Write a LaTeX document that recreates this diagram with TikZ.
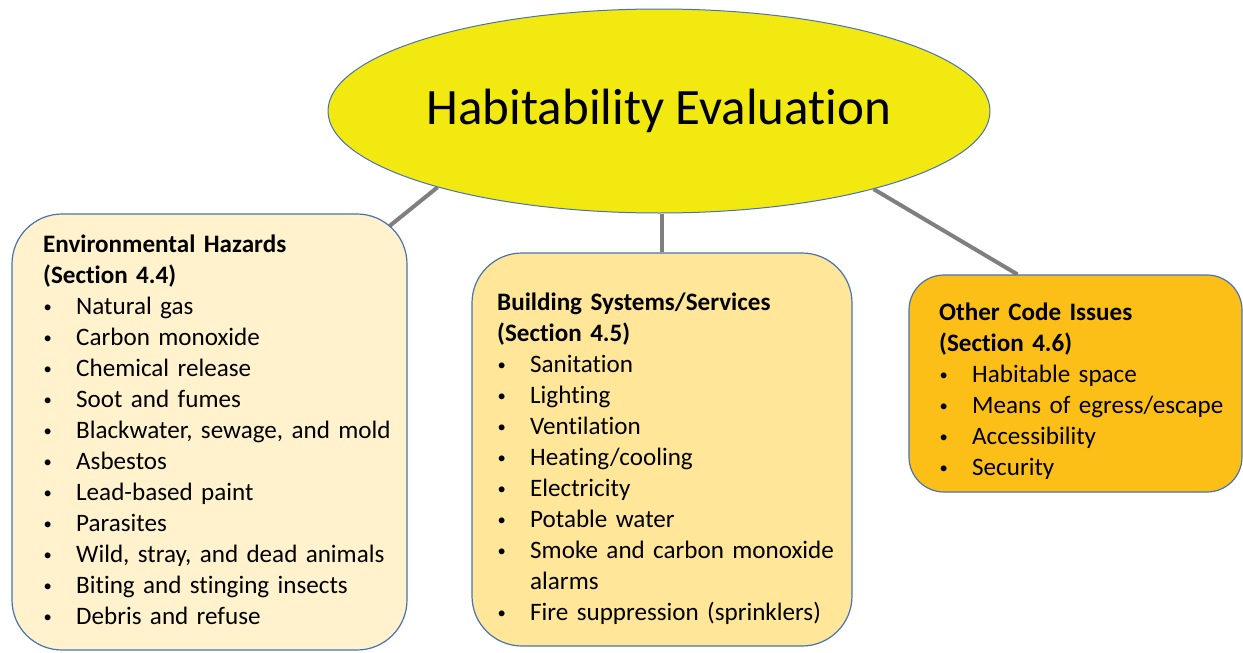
\documentclass[tikz,border=0pt]{standalone}
\usepackage{fontspec}
\setmainfont{Carlito}[Ligatures=NoCommon]
\usetikzlibrary{shapes.geometric,backgrounds,calc}
\definecolor{ellfill}{HTML}{F1E910}
\definecolor{boxA}{HTML}{FFF2CC}
\definecolor{boxB}{HTML}{FFE699}
\definecolor{boxC}{HTML}{FCBF17}
\definecolor{edge}{HTML}{4A72B0}
\definecolor{link}{HTML}{7F7F7F}
\newcommand{\itm}[1]{\makebox[33pt][l]{\hspace*{0.5pt}\raisebox{1.8pt}{\scalebox{0.66}{•}}}#1}
\tikzset{
  box/.style={draw=edge, line width=1.2pt, rounded corners=50pt, inner sep=0pt},
  txt/.style={align=left, inner sep=0pt, anchor=base west, text width=360pt,
    font=\fontsize{25.1}{31}\selectfont},
  link/.style={draw=link, line width=4pt}
}
\begin{document}
\begin{tikzpicture}[x=1pt, y=-1pt]
\useasboundingbox (0,0) rectangle (1243,653);
\node[ellipse, draw=edge, line width=1pt, fill=ellfill, minimum width=662pt,
  minimum height=204pt, inner sep=0pt, text height=26pt, text depth=0pt,
  font=\fontsize{51}{60}\selectfont]
  (top) at (659,111) {Habitability Evaluation};
\node[box, fill=boxA, minimum width=395pt, minimum height=436pt] (left) at (209.5,432) {};
\node[box, fill=boxB, minimum width=380pt, minimum height=393pt] (mid) at (662,449.5) {};
\node[box, fill=boxC, rounded corners=35pt, minimum width=333pt, minimum height=217pt] (right) at (1075.5,383.5) {};
\coordinate (lend) at ($(left.north east)+(-47,36)$);
\begin{scope}[on background layer]
\draw[link] (top.199) -- (lend);
\draw[link] (top.south -| mid.north) -- (mid.north);
\draw[link] (top.340.6) -- (right.118);
\end{scope}
\node[txt] (lt) at (43,252) {\textbf{Environmental Hazards}\\\textbf{(Section 4.4)}\\
\itm{Natural gas}\\\itm{Carbon monoxide}\\\itm{Chemical release}\\\itm{Soot and fumes}\\
\itm{Blackwater, sewage, and mold}\\\itm{Asbestos}\\\itm{Lead-based paint}\\\itm{Parasites}\\
\itm{Wild, stray, and dead animals}\\\itm{Biting and stinging insects}\\\itm{Debris and refuse}};
\node[txt] (mt) at (497,310) {\textbf{Building Systems/Services}\\\textbf{(Section 4.5)}\\
\itm{Sanitation}\\\itm{Lighting}\\\itm{Ventilation}\\\itm{Heating/cooling}\\\itm{Electricity}\\
\itm{Potable water}\\\itm{Smoke and carbon monoxide}\\\hspace*{33pt}alarms\\\itm{Fire suppression (sprinklers)}};
\node[txt, text width=300pt] (rt) at (939,320) {\textbf{Other Code Issues}\\\textbf{(Section 4.6)}\\
\itm{Habitable space}\\\itm{Means of egress/escape}\\\itm{Accessibility}\\\itm{Security}};
\end{tikzpicture}
\end{document}
